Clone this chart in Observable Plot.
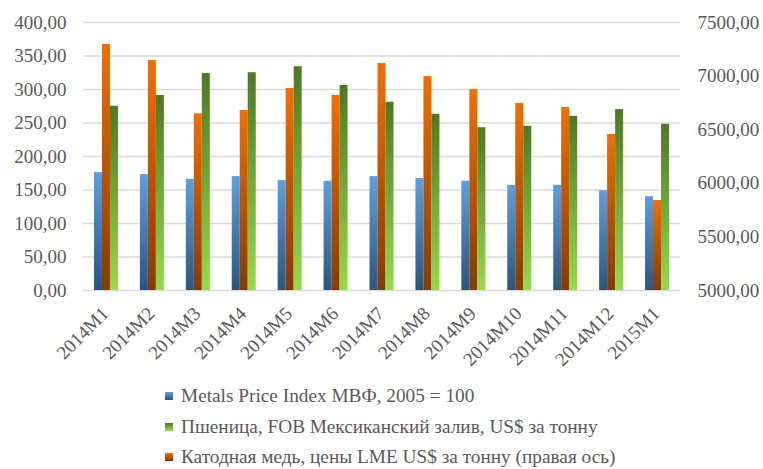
<!DOCTYPE html>
<html>
<head>
<meta charset="utf-8">
<script src="https://cdn.jsdelivr.net/npm/d3@7"></script>
<script src="https://cdn.jsdelivr.net/npm/@observablehq/plot@0.6"></script>
<style>
  body { margin: 0; background: #fff; }
  #legend { font-family: "Liberation Serif", "Times New Roman", serif; font-size: 19.3px; color: #595959; padding-left: 165px; padding-top: 11px; }
  #legend .row { height: 30.5px; display: flex; align-items: center; white-space: nowrap; }
  #legend .sw { width: 8px; height: 8px; margin-right: 8px; display: inline-block; }
  svg text { font-family: "Liberation Serif", "Times New Roman", serif; }
</style>
</head>
<body>
<div id="chart"></div>
<div id="legend"></div>
<script>
const months = ["2014M1","2014M2","2014M3","2014M4","2014M5","2014M6","2014M7","2014M8","2014M9","2014M10","2014M11","2014M12","2015M1"];
const metals = [176,173,166,170,164,163,170,167,163,157,157,149,140];
const wheat  = [275,291,324,325,334,306,281,263,243,245,260,270,248];
const copper = [7295,7145,6648,6679,6884,6819,7117,6996,6875,6744,6707,6455,5840];
const leftTicks = [0,50,100,150,200,250,300,350,400];
const rightTicks = [5000,5500,6000,6500,7000,7500];
const seriesNames = {
  metals: "Metals Price Index МВФ, 2005 = 100",
  wheat: "Пшеница, FOB Мексиканский залив, US$ за тонну",
  copper: "Катодная медь, цены LME US$ за тонну (правая ось)"
};

// right axis mapped onto left scale
const rMin = 5000, rMax = 7500, lMax = 400;
const toLeft = v => (v - rMin) * lMax / (rMax - rMin);
const fmt = v => v.toFixed(2).replace(".", ",");

const data = [];
months.forEach((m, i) => {
  data.push({month: m, series: "metals", value: metals[i]});
  data.push({month: m, series: "copper", value: toLeft(copper[i])});
  data.push({month: m, series: "wheat", value: wheat[i]});
});

const grads = {
  metals: ["#5aa0e2", "#2b5580"],
  copper: ["#f46e00", "#883a00"],
  wheat:  ["#4e7925", "#93dc4b"]
};

const FONT = '"Liberation Serif", "Times New Roman", serif';

const plot = Plot.plot({
  width: 763,
  height: 370,
  marginTop: 22,
  marginBottom: 80,
  marginLeft: 83,
  marginRight: 83,
  style: {fontFamily: FONT, fontSize: "19px", color: "#595959", background: "#fff"},
  fx: {domain: months, padding: 0, round: false, label: null},
  x: {domain: ["metals","copper","wheat"], paddingInner: 0, paddingOuter: 1.37, round: false, axis: null},
  y: {domain: [0, 400], label: null},
  marks: [
    Plot.ruleY(leftTicks, {stroke: "#d9d9d9", strokeWidth: 1.3}),
    Plot.barY(data.filter(d => d.series === "metals"), {fx: "month", x: "series", y: "value", fill: "url(#g-metals)"}),
    Plot.barY(data.filter(d => d.series === "copper"), {fx: "month", x: "series", y: "value", fill: "url(#g-copper)"}),
    Plot.barY(data.filter(d => d.series === "wheat"), {fx: "month", x: "series", y: "value", fill: "url(#g-wheat)"}),
    Plot.axisY({anchor: "left", ticks: leftTicks, tickSize: 0, tickPadding: 17, tickFormat: fmt, label: null}),
    Plot.axisY({anchor: "right", ticks: rightTicks.map(toLeft), tickSize: 0, tickPadding: 17,
      tickFormat: t => fmt(rMin + t * (rMax - rMin) / lMax), label: null}),
    Plot.axisFx({anchor: "bottom", tickRotate: -45, tickSize: 0, tickPadding: 20, dx: -1, label: null})
  ]
});

let defs = "<defs>";
for (const [k, [top, bot]] of Object.entries(grads)) {
  defs += `<linearGradient id="g-${k}" x1="0" y1="0" x2="0" y2="1"><stop offset="0" stop-color="${top}"/><stop offset="1" stop-color="${bot}"/></linearGradient>`;
}
defs += "</defs>";
plot.insertAdjacentHTML("afterbegin", defs);
document.getElementById("chart").appendChild(plot);

const legend = document.getElementById("legend");
["metals","wheat","copper"].forEach(k => {
  const row = document.createElement("div");
  row.className = "row";
  const sw = document.createElement("span");
  sw.className = "sw";
  sw.style.background = `linear-gradient(${grads[k][0]}, ${grads[k][1]})`;
  const t = document.createElement("span");
  t.textContent = seriesNames[k];
  row.appendChild(sw); row.appendChild(t);
  legend.appendChild(row);
});
</script>
</body>
</html>
